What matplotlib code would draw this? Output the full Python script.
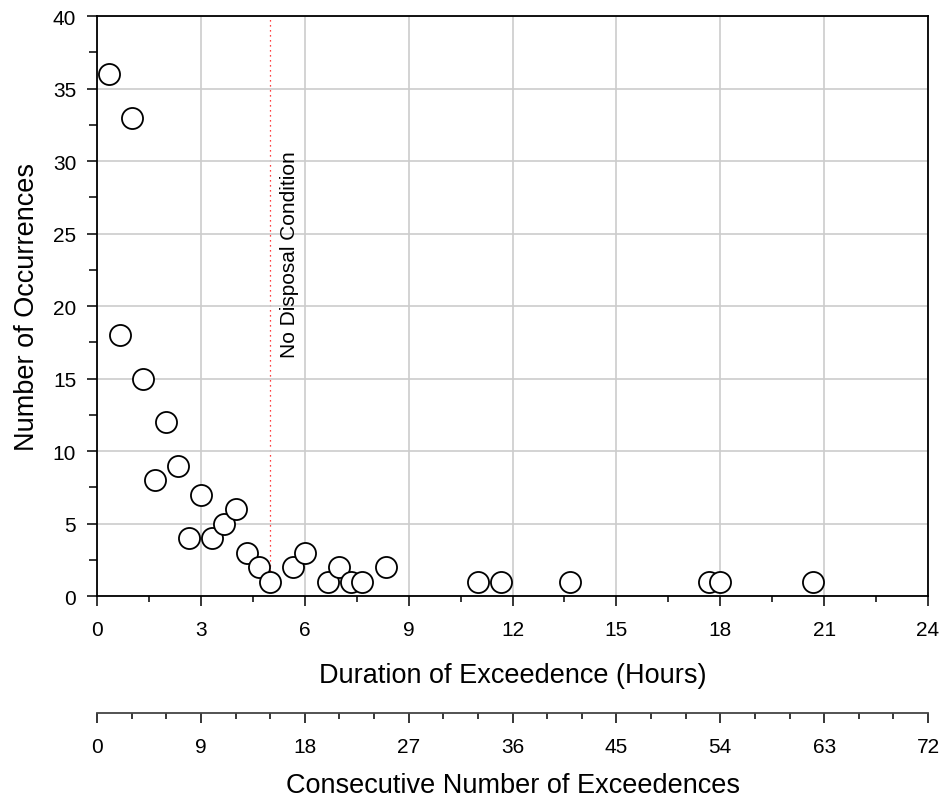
import numpy as np
import matplotlib
matplotlib.use("Agg")
import matplotlib.pyplot as plt
from matplotlib.ticker import MultipleLocator

plt.rcParams['font.family'] = ['Liberation Sans', 'DejaVu Sans']

# consecutive number of exceedences (each one = 1/3 hour) and occurrences
consec = [1, 2, 3, 4, 5, 6, 7, 8, 9, 10, 11, 12, 13, 14, 15,
          17, 18, 20, 21, 22, 23, 25, 33, 35, 41, 53, 54, 62]
occurrences = [36, 18, 33, 15, 8, 12, 9, 4, 7, 4, 5, 6, 3, 2, 1,
               2, 3, 1, 2, 1, 1, 2, 1, 1, 1, 1, 1, 1]
limit_hours = 5.0

hours = np.array(consec) / 3.0

fig = plt.figure(figsize=(9.43, 8.03), dpi=100)
ax = fig.add_axes([0.1029, 0.2565, 0.8812, 0.7223])

ax.grid(True, color='#cccccc', linewidth=1.2, zorder=0)
ax.axvline(limit_hours, color='red', linestyle=(0, (1, 3)), linewidth=0.9, zorder=1)
ax.text(limit_hours + 0.55, 23.6, "No Disposal Condition", rotation=90,
        ha='center', va='center', fontsize=15)

ax.scatter(hours, occurrences, s=230, facecolors='white', edgecolors='black',
           linewidths=1.3, zorder=3, clip_on=False)

ax.set_xlim(0, 24)
ax.set_ylim(0, 40)
ax.xaxis.set_major_locator(MultipleLocator(3))
ax.xaxis.set_minor_locator(MultipleLocator(1.5))
ax.yaxis.set_major_locator(MultipleLocator(5))
ax.yaxis.set_minor_locator(MultipleLocator(2.5))
ax.tick_params(which='major', length=7, width=1.1, labelsize=15, pad=8)
ax.tick_params(axis='x', which='major', pad=10)
ax.tick_params(which='minor', length=4, width=1.1)
ax.tick_params(axis='y', which='minor', length=6)
for sp in ax.spines.values():
    sp.set_linewidth(1.3)
ax.set_xlabel("Duration of Exceedence (Hours)", fontsize=19.5, labelpad=17)
ax.set_ylabel("Number of Occurrences", fontsize=19.5, labelpad=9)

# second scale: consecutive number
ax2 = fig.add_axes([0.1029, 0.1108, 0.8812, 0.0])
ax2.set_xlim(0, 72)
ax2.xaxis.set_major_locator(MultipleLocator(9))
ax2.xaxis.set_minor_locator(MultipleLocator(3))
ax2.yaxis.set_visible(False)
for name in ['top', 'left', 'right']:
    ax2.spines[name].set_visible(False)
ax2.spines['bottom'].set_linewidth(1.3)
ax2.spines['bottom'].set_color('#444444')
ax2.tick_params(which='major', length=7, width=1.1, labelsize=15, pad=10)
ax2.tick_params(which='minor', length=4, width=1.1)
ax2.set_xlabel("Consecutive Number of Exceedences", fontsize=19.5, labelpad=12)

fig.savefig("out.png", dpi=100)
